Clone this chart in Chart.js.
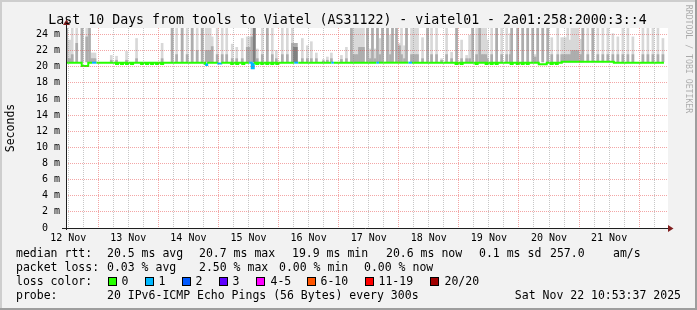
<!DOCTYPE html>
<html>
<head>
<meta charset="utf-8">
<title>SmokePing - viatel01</title>
<script src="https://cdn.jsdelivr.net/npm/chart.js@4.4.0/dist/chart.umd.min.js"></script>
<style>
  html, body { margin: 0; padding: 0; background: #f2f2f2; }
  #wrap { width: 697px; height: 310px; }
</style>
</head>
<body>
<div id="wrap"><canvas id="smokeChart" width="697" height="310"></canvas></div>
<script>
// ---- data (x = hours since 12 Nov 00:00, y = ms) ----
const dayLabels = ["12 Nov", "13 Nov", "14 Nov", "15 Nov", "16 Nov", "17 Nov", "18 Nov", "19 Nov", "20 Nov", "21 Nov"];

const smokeHour = [
  11.4, 11.9, 12.7, 13.6, 15.4, 17.5, 19.4, 20.5, 21.1, 21.9,
  22.7, 29.2, 31.3, 35.3, 39.3, 49.5, 53.5, 55.3, 57.5, 59.5,
  61.5, 63.5, 65.5, 67.1, 67.9, 68.7, 69.5, 71.5, 73.5, 75.3,
  77.5, 79.3, 81.5, 83.5, 84.3, 85.3, 86.3, 87.5, 89.5, 91.5,
  93.5, 95.1, 97.5, 99.5, 101.5, 102.3, 103.1, 105.5, 107.5, 109.1,
  111.1, 113.9, 115.5, 117.1, 121.1, 123.1, 125.1, 125.9, 126.7, 127.5,
  128.3, 129.1, 129.9, 131.5, 132.7, 133.5, 134.5, 135.5, 136.5, 137.5,
  139.5, 140.7, 141.5, 143.1, 144.3, 145.1, 146.3, 147.1, 149.1, 149.9,
  150.7, 151.5, 153.5, 155.5, 157.1, 159.1, 161.1, 163.1, 165.1, 167.1,
  169.1, 171.1, 172.3, 173.5, 175.1, 176.3, 177.1, 177.9, 178.7, 179.3,
  181.1, 183.1, 185.1, 187.1, 188.5, 189.1, 191.5, 193.5, 195.5, 197.5,
  198.5, 199.5, 201.5, 203.5, 205.1, 207.5, 209.1, 209.9, 210.7, 211.5,
  212.3, 213.1, 213.9, 214.7, 215.5, 216.7, 217.5, 219.5, 221.5, 223.5,
  225.5, 227.5, 229.5, 231.5, 233.5, 235.5, 237.5, 241.5, 243.5, 245.5,
  247.5, 249.5
];
// outer (light) smoke top
const smokeTop = [
  25, 23.3, 23.3, 25, 25, 25, 25, 25, 21.7, 21.7,
  21.7, 21.4, 21.3, 21.9, 23.5, 22.9, 25, 25, 25, 25,
  25, 25, 25, 25, 25, 25, 23.7, 25, 25, 25,
  22.8, 22.4, 23.5, 23.7, 23.7, 25, 25, 22.2, 25, 25,
  25, 22.0, 25, 25, 25, 22.9, 22.9, 23.5, 22.6, 23.1,
  21.7, 20.9, 21.2, 21.7, 21.4, 22.4, 25, 25, 25, 25,
  25, 25, 25, 25, 22.2, 25, 22.2, 25, 23.5, 25,
  25, 23.9, 25, 25, 22.9, 25, 22.6, 25, 25, 25,
  25, 25, 23.6, 25, 25, 25, 21.0, 25, 21.8, 25,
  23.3, 21.4, 23.9, 25, 25, 25, 25, 25, 25, 23.3,
  25, 25, 25, 25, 24.1, 25, 25, 25, 25, 25,
  21.5, 25, 25, 25, 23.6, 25, 23.6, 23.6, 23.6, 25,
  23.3, 25, 25, 25, 25, 23.4, 25, 25, 25, 25,
  25, 25, 24.1, 23.7, 25, 25, 23.7, 25, 25, 25,
  25, 23.5
];
// inner (medium) smoke top
const smokeMid = [
  25, 21.0, 21.0, 21.5, 22.9, 25, 23.7, 25, 21.0, 21.0,
  21.0, 20.8, 20.8, 20.8, 21.0, 21.0, 25, 21.5, 25, 21.5,
  25, 22.0, 25, 22.0, 22.0, 22.0, 22.5, 21.5, 21.5, 21.5,
  21.0, 21.0, 21.0, 22.4, 22.4, 23.7, 25, 21.0, 21.5, 25,
  21.5, 21.0, 21.5, 21.5, 22.9, 22.9, 22.9, 21.0, 21.0, 21.0,
  21.0, 20.7, 20.8, 21.0, 20.9, 21.0, 25, 21.5, 21.5, 21.5,
  22.4, 22.4, 22.4, 25, 21.0, 25, 21.0, 25, 21.5, 25,
  25, 21.5, 25, 25, 22.6, 21.5, 21.0, 25, 21.5, 21.5,
  21.5, 21.5, 21.0, 25, 21.5, 21.5, 20.8, 21.5, 21.0, 25,
  21.0, 21.0, 21.0, 25, 21.5, 25, 21.5, 21.5, 21.5, 21.0,
  21.5, 25, 21.5, 21.5, 21.5, 25, 25, 25, 25, 25,
  21.2, 25, 25, 25, 21.5, 21.5, 21.5, 21.5, 21.5, 21.5,
  21.5, 22.0, 22.0, 22.0, 22.0, 21.5, 25, 21.5, 25, 21.5,
  21.5, 21.5, 21.5, 21.5, 21.5, 21.5, 21.5, 21.5, 21.5, 21.5,
  21.5, 21.5
];
const darkHour = [86.3, 102.3, 103.1];
const darkTop = [25, 22.4, 22.4];
const smokeBase = 20.6;

// median rtt, stepped; loss index per step (0 = no loss)
const medianHour = [
  11.0, 17.4, 20.0, 21.5, 23.3,
  31.1, 31.9, 33.1, 33.9, 35.1, 35.9, 37.1, 37.9,
  41.1, 41.9, 43.1, 43.9, 45.1, 45.9, 47.1, 47.9, 49.1, 49.9,
  66.7, 67.5, 71.5, 73.1,
  77.1, 77.9, 79.1, 79.9, 81.5, 82.3,
  84.3, 85.3, 86.1,
  87.1, 87.9, 89.1, 89.9, 91.1, 91.9, 93.1, 93.9, 95.1, 95.9,
  102.3, 103.9, 117.1, 118.1, 135.1, 136.1, 147.9, 149.3,
  166.7, 167.5, 168.7, 169.5, 174.7, 175.5, 178.7, 179.5, 180.7, 181.5, 182.7, 183.5,
  188.7, 189.5, 191.1, 191.9, 193.1, 193.9, 195.1, 195.9,
  199.9, 203.1, 204.7, 205.5, 206.7, 207.5,
  209.1, 229.9, 249.9
];
const medianMs = [
  20.5, 20.1, 20.5, 20.5, 20.5,
  20.35, 20.5, 20.35, 20.5, 20.35, 20.5, 20.35, 20.5,
  20.35, 20.5, 20.35, 20.5, 20.35, 20.5, 20.35, 20.5, 20.35, 20.5,
  20.2, 20.5, 20.4, 20.5,
  20.35, 20.5, 20.35, 20.5, 20.35, 20.5,
  20.5, 19.8, 20.5,
  20.35, 20.5, 20.35, 20.5, 20.35, 20.5, 20.35, 20.5, 20.35, 20.5,
  20.5, 20.5, 20.5, 20.5, 20.5, 20.5, 20.5, 20.5,
  20.35, 20.5, 20.35, 20.5, 20.35, 20.5, 20.35, 20.5, 20.35, 20.5, 20.35, 20.5,
  20.35, 20.5, 20.35, 20.5, 20.35, 20.5, 20.35, 20.5,
  20.3, 20.5, 20.35, 20.5, 20.35, 20.5,
  20.6, 20.5, 20.5
];
const medianLoss = [
  0, 0, 0, 1, 0,
  0, 0, 0, 0, 0, 0, 0, 0,
  0, 0, 0, 0, 0, 0, 0, 0, 0, 0,
  1, 0, 1, 0,
  0, 0, 0, 0, 0, 0,
  1, 1, 0,
  0, 0, 0, 0, 0, 0, 0, 0, 0, 0,
  1, 0, 1, 0, 1, 0, 1, 0,
  0, 0, 0, 0, 0, 0, 0, 0, 0, 0, 0, 0,
  0, 0, 0, 0, 0, 0, 0, 0,
  0, 0, 0, 0, 0, 0,
  0, 0, 0
];

const lossLabels = ["0", "1", "2", "3", "4-5", "6-10", "11-19", "20/20"];
const lossColors = ["#26ff00", "#00b8ff", "#0059ff", "#5e00ff", "#ff00ff", "#ff5500", "#ff0000", "#a00000"];
const rttStats = ["20.5 ms avg", "20.7 ms max", "19.9 ms min", "20.6 ms now", "0.1 ms sd", "257.0", "am/s"];
const lossStats = ["0.03 % avg", "2.50 % max", "0.00 % min", "0.00 % now"];
const probeText = "20 IPv6-ICMP Echo Pings (56 Bytes) every 300s";
const stampText = "Sat Nov 22 10:53:37 2025";
const titleText = "Last 10 Days from tools to Viatel (AS31122) - viatel01 - 2a01:258:2000:3::4";

// ---- look ----
const W = 697, H = 310;
const MONO = "'DejaVu Sans Mono', monospace";
const GRID = "rgba(143,143,143,0.5)";
const MGRID = "rgba(230,70,70,0.48)";

const rrdDecor = {
  id: "rrdDecor",
  beforeDraw(chart) {
    const { ctx, chartArea: a } = chart;
    ctx.save();
    ctx.fillStyle = "#f2f2f2";
    ctx.fillRect(0, 0, W, H);
    ctx.fillStyle = "#cecece";
    ctx.fillRect(0, 0, W, 2);
    ctx.fillRect(0, 0, 2, H);
    ctx.fillStyle = "#9e9e9e";
    ctx.fillRect(0, H - 2, W, 2);
    ctx.fillRect(W - 2, 0, 2, H);
    ctx.fillStyle = "#ffffff";
    ctx.fillRect(a.left, a.top, a.right - a.left + 1, a.bottom - a.top);
    ctx.restore();
  },
  afterDraw(chart) {
    const { ctx, chartArea: a } = chart;
    ctx.save();

    // axes
    ctx.strokeStyle = "#1f1f1f";
    ctx.lineWidth = 1;
    ctx.beginPath();
    ctx.moveTo(a.left - 4, a.bottom + 0.5);
    ctx.lineTo(a.right + 2, a.bottom + 0.5);
    ctx.moveTo(a.left + 0.5, a.bottom + 2);
    ctx.lineTo(a.left + 0.5, a.top - 3);
    ctx.stroke();

    // arrows
    ctx.fillStyle = "#801f1f";
    ctx.beginPath();
    ctx.moveTo(a.right + 1, a.bottom - 3);
    ctx.lineTo(a.right + 6.5, a.bottom + 0.5);
    ctx.lineTo(a.right + 1, a.bottom + 4);
    ctx.closePath();
    ctx.fill();
    ctx.beginPath();
    ctx.moveTo(a.left - 3, a.top - 3);
    ctx.lineTo(a.left + 0.5, a.top - 8.5);
    ctx.lineTo(a.left + 4, a.top - 3);
    ctx.closePath();
    ctx.fill();

    // title
    ctx.fillStyle = "#000";
    ctx.font = "13.25px " + MONO;
    ctx.textAlign = "center";
    ctx.textBaseline = "alphabetic";
    ctx.fillText(titleText, 347.5, 24);

    // legend rows
    ctx.font = "11.5px " + MONO;
    ctx.textAlign = "left";
    ctx.textBaseline = "middle";
    const rows = [254, 268, 282, 296];
    ctx.fillText("median rtt:", 16, rows[0]);
    const rttX = [107, 199, 292, 386, 479, 550, 613];
    rttStats.forEach((s, i) => ctx.fillText(s, rttX[i], rows[0]));

    ctx.fillText("packet loss:", 16, rows[1]);
    const lossX = [107, 199, 279, 364];
    lossStats.forEach((s, i) => ctx.fillText(s, lossX[i], rows[1]));

    ctx.fillText("loss color:", 16, rows[2]);
    const boxX = [108, 145, 182, 219, 256, 307, 365, 430];
    const labX = [121.5, 158.5, 195.5, 232.5, 270.5, 320.5, 378.5, 444.5];
    lossLabels.forEach((s, i) => {
      ctx.fillStyle = lossColors[i];
      ctx.fillRect(boxX[i], rows[2] - 4, 8, 8);
      ctx.strokeStyle = "#000";
      ctx.strokeRect(boxX[i] + 0.5, rows[2] - 4.5, 8, 8);
      ctx.fillStyle = "#000";
      ctx.fillText(s, labX[i], rows[2]);
    });

    ctx.fillText("probe:", 16, rows[3]);
    ctx.fillText(probeText, 107, rows[3]);
    ctx.textAlign = "right";
    ctx.fillText(stampText, 681, rows[3]);

    // watermark
    ctx.translate(688, 59);
    ctx.rotate(Math.PI / 2);
    ctx.font = "8.2px " + MONO;
    ctx.fillStyle = "rgba(0,0,0,0.3)";
    ctx.textAlign = "center";
    ctx.fillText("RRDTOOL / TOBI OETIKER", 0, 0);

    ctx.restore();
  }
};

const toBars = (xs, tops) => xs.map((h, i) => ({ x: h, y: [smokeBase, tops[i]] }));

const ctx = document.getElementById("smokeChart").getContext("2d");
new Chart(ctx, {
  type: "bar",
  data: {
    datasets: [
      {
        type: "line",
        label: "median rtt",
        data: medianHour.map((h, i) => ({ x: h, y: medianMs[i] })),
        // value of each point holds until the next one
        stepped: "before",
        borderWidth: 2,
        borderColor: lossColors[0],
        segment: { borderColor: c => lossColors[medianLoss[c.p0DataIndex]] },
        pointRadius: 0,
        fill: false,
        order: 0
      },
      {
        label: "smoke dark",
        data: toBars(darkHour, darkTop),
        backgroundColor: "#808080",
        order: 1
      },
      {
        label: "smoke mid",
        data: toBars(smokeHour, smokeMid),
        backgroundColor: "#adadad",
        order: 2
      },
      {
        label: "smoke outer",
        data: toBars(smokeHour, smokeTop),
        backgroundColor: "#d8d8d8",
        order: 3
      }
    ]
  },
  options: {
    responsive: false,
    animation: false,
    events: [],
    layout: { padding: { top: 28, right: 30, bottom: 62, left: 0 } },
    datasets: {
      bar: { grouped: false, barThickness: 2, borderWidth: 0, clip: 0 }
    },
    plugins: {
      legend: { display: false },
      tooltip: { enabled: false },
      title: { display: false }
    },
    scales: {
      x: {
        type: "linear",
        min: 11.12,
        max: 251.12,
        offset: false,
        afterBuildTicks: s => {
          const t = [];
          for (let v = 12; v <= s.max; v += 6) t.push({ value: v });
          s.ticks = t;
        },
        afterFit: s => { s.height = 20; },
        grid: {
          offset: false,
          drawTicks: false,
          lineWidth: 1,
          z: 1,
          color: c => (c.tick && c.tick.value % 24 === 0 ? MGRID : GRID)
        },
        border: { display: false, dash: [1, 1] },
        ticks: {
          autoSkip: false,
          maxRotation: 0,
          minRotation: 0,
          padding: 4,
          color: "#000",
          font: { family: MONO, size: 10 },
          callback: v => (v % 24 === 12 ? dayLabels[(v - 12) / 24] || "" : "")
        }
      },
      y: {
        type: "linear",
        min: 0,
        max: 24.8,
        afterBuildTicks: s => {
          const t = [];
          for (let v = 0; v <= 24; v += 1) t.push({ value: v });
          s.ticks = t;
        },
        afterFit: s => { s.width = 66; },
        grid: {
          drawTicks: false,
          lineWidth: 1,
          z: 1,
          color: c => (c.tick && c.tick.value % 2 === 0 ? MGRID : GRID)
        },
        border: { display: false, dash: [1, 1] },
        title: {
          display: true,
          text: "Seconds",
          color: "#000",
          font: { family: MONO, size: 11.5 },
          padding: { top: 4, bottom: 0 }
        },
        ticks: {
          padding: 6,
          color: "#000",
          font: { family: MONO, size: 10 },
          callback: v => (v % 2 ? "" : v === 0 ? "0  " : v + " m")
        }
      }
    }
  },
  plugins: [rrdDecor]
});
</script>
</body>
</html>
